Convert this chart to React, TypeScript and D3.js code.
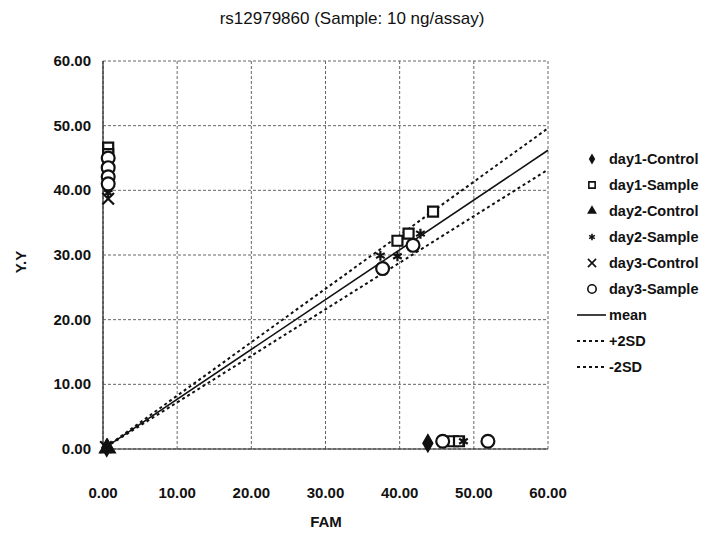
import React from 'react';
import * as d3 from 'd3';

// series values (FAM on x, Y.Y on y)
const day1ControlX = [0.5, 43.8];
const day1ControlY = [0.2, 0.9];
const day1SampleX = [0.7, 0.7, 44.5, 39.7, 41.2, 47.2, 48.0];
const day1SampleY = [46.6, 45.6, 36.7, 32.2, 33.3, 1.2, 1.2];
const day2ControlX = [0.6];
const day2ControlY = [0.1];
const day2SampleX = [0.7, 42.8, 37.4, 39.7, 48.6];
const day2SampleY = [39.6, 33.3, 29.9, 29.8, 1.2];
const day3ControlX = [0.7, 0.4];
const day3ControlY = [38.7, 0.3];
const day3SampleX = [0.7, 0.7, 0.7, 0.7, 41.8, 37.7, 45.8, 51.9];
const day3SampleY = [45.0, 43.5, 42.1, 41.0, 31.5, 27.9, 1.2, 1.2];

const lineX = [0.4, 60];
const meanY = [0.3, 46.2];
const plus2SDY = [0.3, 49.6];
const minus2SDY = [0.3, 43.2];

const xTicks = [0, 10, 20, 30, 40, 50, 60];
const yTicks = [0, 10, 20, 30, 40, 50, 60];

const seriesNames = ['day1-Control', 'day1-Sample', 'day2-Control', 'day2-Sample', 'day3-Control', 'day3-Sample'];
const lineNames = ['mean', '+2SD', '-2SD'];

const width = 713;
const height = 537;
const margin = { left: 103, right: 165, top: 61, bottom: 88 };

const font = '"Liberation Sans", Arial, sans-serif';

const series = [
    { xs: day1ControlX, ys: day1ControlY, symbol: d3.symbolDiamond, size: 70, legendSize: 18, fill: '#111', stroke: '#111' },
    { xs: day1SampleX, ys: day1SampleY, symbol: d3.symbolSquare, size: 100, legendSize: 40, fill: '#fff', stroke: '#111' },
    { xs: day2ControlX, ys: day2ControlY, symbol: d3.symbolTriangle, size: 90, legendSize: 22, fill: '#111', stroke: '#111' },
    { xs: day2SampleX, ys: day2SampleY, symbol: d3.symbolAsterisk, size: 70, legendSize: 30, fill: 'none', stroke: '#111' },
    { xs: day3ControlX, ys: day3ControlY, symbol: d3.symbolTimes, size: 90, legendSize: 45, fill: 'none', stroke: '#111' },
    { xs: day3SampleX, ys: day3SampleY, symbol: d3.symbolCircle, size: 130, legendSize: 55, fill: '#fff', stroke: '#111' }
];

export default function App() {
    const x = d3.scaleLinear().domain([0, 60]).range([margin.left, width - margin.right]);
    const y = d3.scaleLinear().domain([0, 60]).range([height - margin.bottom, margin.top]);

    const line = d3.line<number>()
        .x((d, i) => x(lineX[i]))
        .y((d) => y(d));

    const lines = [
        { ys: meanY, dash: 'none', w: 1.6 },
        { ys: plus2SDY, dash: '3,3', w: 2 },
        { ys: minus2SDY, dash: '3,3', w: 2 }
    ];

    const legendX = 592;
    const legendY0 = 159;
    const legendStep = 26;

    return (
        <svg width={width} height={height} style={{ position: 'absolute', left: 0, top: 0, background: '#fff' }}>
            <text x={352} y={24} textAnchor="middle" fontFamily={font} fontSize={17} fill="#111">
                rs12979860 (Sample: 10 ng/assay)
            </text>

            {/* grid */}
            <g stroke="#666" strokeWidth={1} strokeDasharray="3,2">
                {xTicks.map((t) => (
                    <line key={'gx' + t} x1={x(t)} x2={x(t)} y1={y(0)} y2={y(60)} />
                ))}
                {yTicks.map((t) => (
                    <line key={'gy' + t} x1={x(0)} x2={x(60)} y1={y(t)} y2={y(t)} />
                ))}
            </g>
            <line x1={x(0)} x2={x(0)} y1={y(0)} y2={y(60)} stroke="#222" strokeWidth={1.2} />
            <line x1={x(0)} x2={x(60)} y1={y(0)} y2={y(0)} stroke="#222" strokeWidth={1.2} />

            {/* axis labels */}
            <g fontFamily={font} fontSize={15} fontWeight="bold" fill="#111">
                {yTicks.map((t) => (
                    <text key={'ty' + t} x={91} y={y(t) + 5} textAnchor="end">{t.toFixed(2)}</text>
                ))}
                {xTicks.map((t) => (
                    <text key={'tx' + t} x={x(t)} y={498} textAnchor="middle">{t.toFixed(2)}</text>
                ))}
                <text x={326} y={527} textAnchor="middle">FAM</text>
                <text transform="translate(26, 262) rotate(-90)" textAnchor="middle">Y.Y</text>
            </g>

            {/* regression lines */}
            {lines.map((l, i) => (
                <path key={'l' + i} d={line(l.ys) || ''} fill="none" stroke="#111"
                    strokeWidth={l.w} strokeDasharray={l.dash} />
            ))}

            {/* points */}
            {series.map((s, si) => {
                const sym = d3.symbol().type(s.symbol).size(s.size)();
                return s.xs.map((xv, i) => (
                    <path key={'p' + si + '-' + i} d={sym || ''}
                        transform={`translate(${x(xv)}, ${y(s.ys[i])})`}
                        fill={s.fill} stroke={s.stroke} strokeWidth={2.2} />
                ));
            })}

            {/* legend */}
            <g fontFamily={font} fontSize={14.5} fontWeight="bold" fill="#111">
                {seriesNames.map((name, i) => {
                    const s = series[i];
                    const sym = d3.symbol().type(s.symbol).size(s.legendSize)();
                    const ly = legendY0 + i * legendStep;
                    return (
                        <g key={'lg' + i}>
                            <path d={sym || ''} transform={`translate(${legendX}, ${ly})`}
                                fill={s.fill} stroke={s.stroke} strokeWidth={1.6} />
                            <text x={legendX + 17} y={ly + 5}>{name}</text>
                        </g>
                    );
                })}
                {lineNames.map((name, i) => {
                    const ly = legendY0 + (seriesNames.length + i) * legendStep;
                    return (
                        <g key={'ll' + i}>
                            <line x1={legendX - 15} x2={legendX + 14} y1={ly} y2={ly} stroke="#111"
                                strokeWidth={lines[i].w} strokeDasharray={lines[i].dash} />
                            <text x={legendX + 17} y={ly + 5}>{name}</text>
                        </g>
                    );
                })}
            </g>
        </svg>
    );
}
